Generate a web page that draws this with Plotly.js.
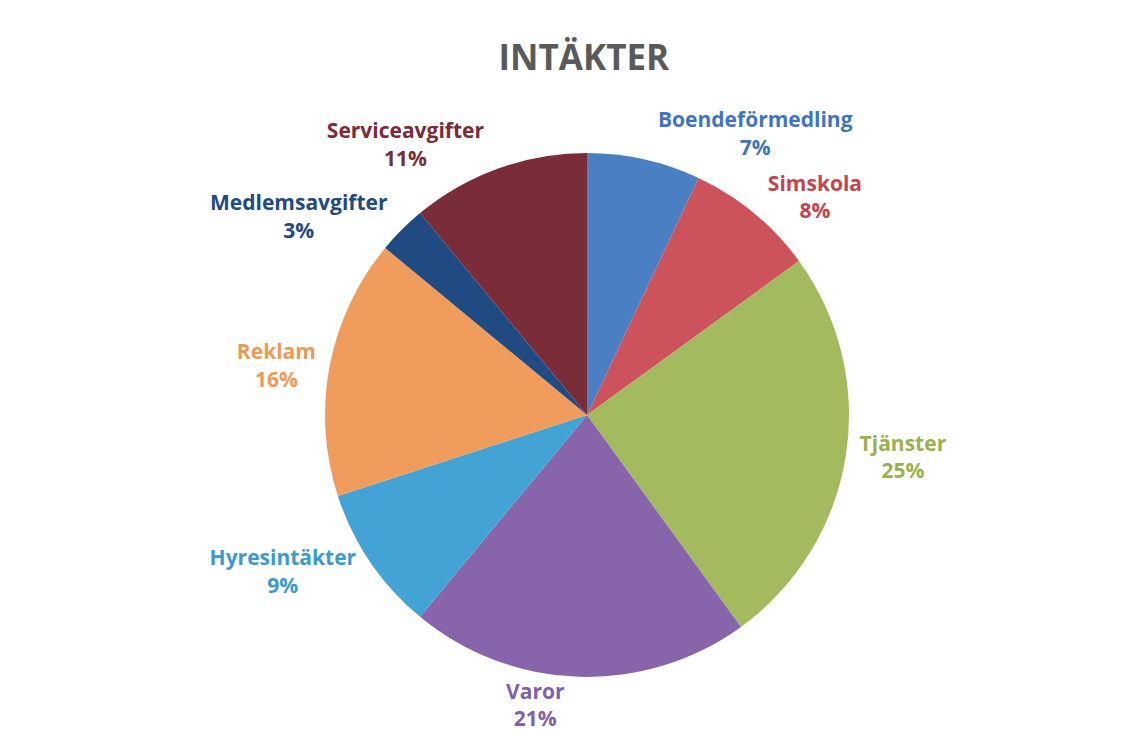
<!DOCTYPE html>
<html><head><meta charset="utf-8">
<script src="https://cdn.plot.ly/plotly-3.0.1.min.js"></script>
<style>html,body{margin:0;padding:0;background:#fff}#chart{width:1147px;height:746px}</style>
</head><body><div id="chart"></div>
<script>
const categories = ["Boendeförmedling","Simskola","Tjänster","Varor","Hyresintäkter","Reklam","Medlemsavgifter","Serviceavgifter"];
const values = [7,8,25,21,9,16,3,11];
const sliceColors = ["#4A7FC4","#CC535B","#A3BA5E","#8865AB","#42A3D4","#EF9C5C","#1F4A82","#7A2C38"];
const labelColors = ["#3F75C0","#C4444F","#9BB04F","#8060A8","#3A9AD0","#EE9A55","#1F4A82","#7A2C38"];

const trace = {
  type: "pie",
  labels: categories,
  values: values,
  sort: false,
  direction: "clockwise",
  rotation: 0,
  marker: {colors: sliceColors, line: {width: 0}},
  textposition: "outside",
  texttemplate: "%{label}<br>%{percent:.0%}",
  outsidetextfont: {family: "Open Sans, sans-serif", size: 21, color: labelColors, weight: "bold"},
  hoverinfo: "label+percent",
  domain: {x: [0.2834, 0.7402], y: [0.0925, 0.795]},
  automargin: false
};

const layout = {
  width: 1147, height: 746,
  margin: {l: 0, r: 0, t: 0, b: 0},
  paper_bgcolor: "#ffffff",
  showlegend: false,
  title: {text: "<b>INTÄKTER</b>", x: 0.509, xanchor: "center", y: 0.922, yanchor: "middle",
          font: {family: "Open Sans, sans-serif", size: 35, color: "#5A5A5A"}}
};

Plotly.newPlot("chart", [trace], layout, {displayModeBar: false, staticPlot: true});
</script></body></html>
